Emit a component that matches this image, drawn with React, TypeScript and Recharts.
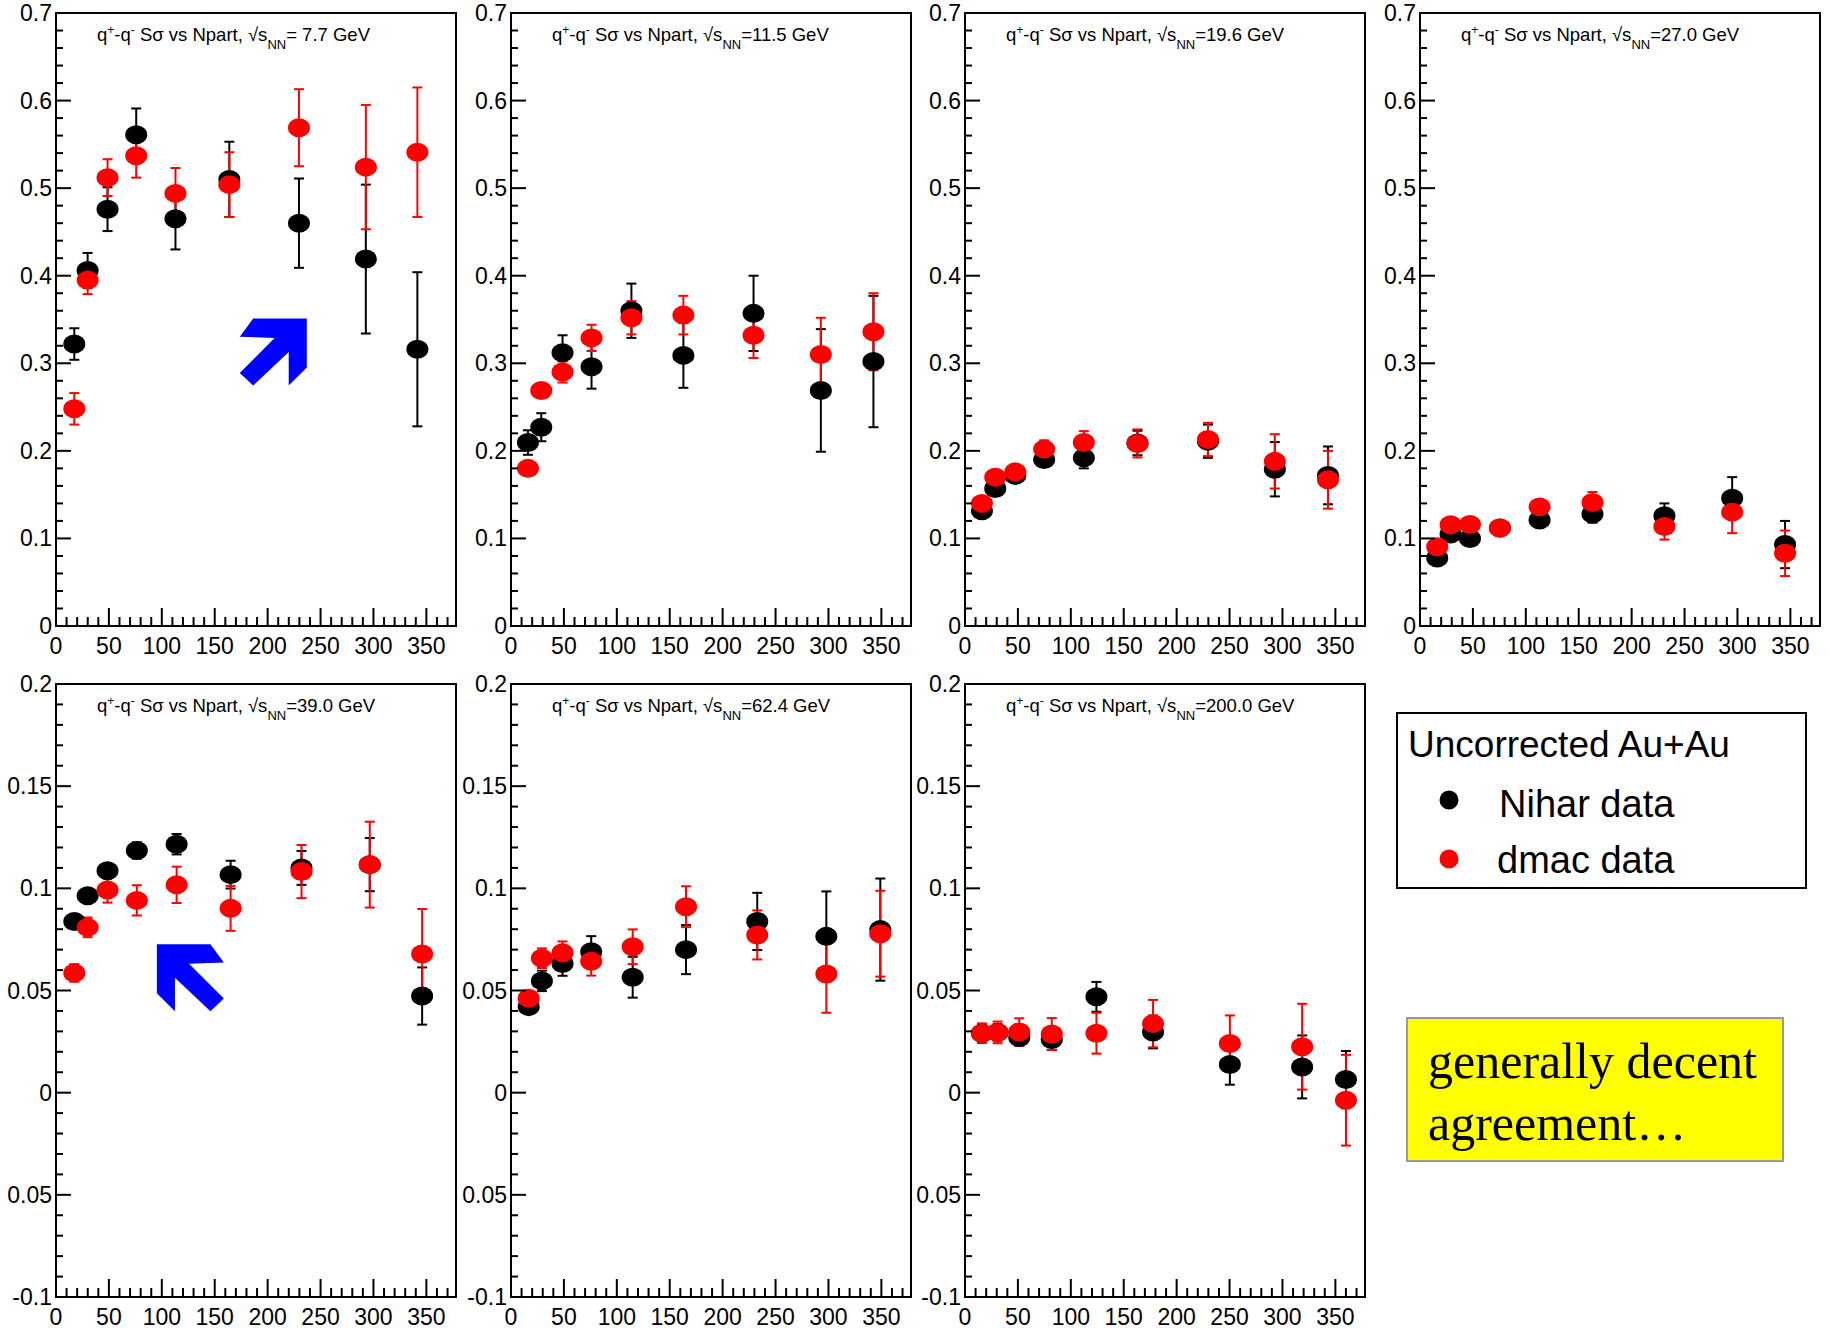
import React from "react";
import {
  ErrorBar,
  ReferenceArea,
  ReferenceDot,
  Scatter,
  ScatterChart,
  XAxis,
  YAxis,
} from "recharts";

const FONT = "'Liberation Sans', Arial, Helvetica, sans-serif";
const RED = "#ff0000";
const BLACK = "#000000";

// x axis (Npart)
const X_MAX = 378;
const xMajor = [0, 50, 100, 150, 200, 250, 300, 350];
const xLabels = ["0", "50", "100", "150", "200", "250", "300", "350"];

// y axes
const yMajorTop = [0, 0.1, 0.2, 0.3, 0.4, 0.5, 0.6, 0.7];
const yLabelsTop = ["0", "0.1", "0.2", "0.3", "0.4", "0.5", "0.6", "0.7"];
const yMajorBottom = [-0.1, -0.05, 0, 0.05, 0.1, 0.15, 0.2];
const yLabelsBottom = ["-0.1", "0.05", "0", "0.05", "0.1", "0.15", "0.2"];

// 7.7 GeV
const npart7 = [17.3, 29.9, 48.7, 75.8, 112.9, 163.8, 229.6, 292.8, 341.5];
const nihar7 = [0.322, 0.406, 0.476, 0.561, 0.465, 0.51, 0.46, 0.419, 0.316];
const niharErr7 = [0.018, 0.02, 0.025, 0.03, 0.035, 0.043, 0.051, 0.085, 0.088];
const dmac7 = [0.248, 0.395, 0.512, 0.537, 0.494, 0.504, 0.569, 0.524, 0.541];
const dmacErr7 = [0.018, 0.016, 0.021, 0.025, 0.029, 0.037, 0.044, 0.071, 0.074];

// 11.5 GeV
const npart11 = [16.0, 28.6, 48.7, 76.1, 113.8, 162.9, 229.2, 292.8, 342.5];
const nihar11 = [0.2095, 0.227, 0.312, 0.296, 0.36, 0.309, 0.357, 0.269, 0.302];
const niharErr11 = [0.014, 0.016, 0.02, 0.025, 0.031, 0.037, 0.043, 0.07, 0.075];
const dmac11 = [0.18, 0.269, 0.29, 0.329, 0.352, 0.355, 0.332, 0.31, 0.336];
const dmacErr11 = [0.006, 0.007, 0.012, 0.015, 0.019, 0.022, 0.026, 0.042, 0.044];

// 19.6 GeV
const npart19 = [16.0, 28.6, 47.5, 74.8, 112.3, 163.0, 229.6, 292.8, 343.0];
const nihar19 = [0.1315, 0.157, 0.172, 0.19, 0.192, 0.209, 0.211, 0.179, 0.172];
const niharErr19 = [0.005, 0.006, 0.006, 0.008, 0.012, 0.014, 0.019, 0.031, 0.033];
const dmac19 = [0.14, 0.17, 0.176, 0.202, 0.2095, 0.2085, 0.213, 0.188, 0.167];
const dmacErr19 = [0.005, 0.006, 0.006, 0.01, 0.013, 0.016, 0.019, 0.031, 0.033];

// 27 GeV
const npart27 = [16.3, 28.9, 47.2, 75.5, 113.0, 163.0, 231.0, 295.0, 345.0];
const nihar27 = [0.0776, 0.105, 0.1, 0.112, 0.121, 0.128, 0.126, 0.146, 0.093];
const niharErr27 = [0.004, 0.005, 0.005, 0.006, 0.006, 0.01, 0.014, 0.024, 0.027];
const dmac27 = [0.0906, 0.1156, 0.116, 0.112, 0.136, 0.141, 0.1137, 0.13, 0.083];
const dmacErr27 = [0.004, 0.005, 0.005, 0.004, 0.006, 0.012, 0.015, 0.024, 0.026];

// 39 GeV
const npart39 = [17.3, 29.9, 48.7, 76.4, 114.0, 165.0, 232.0, 296.5, 346.0];
const nihar39 = [0.0838, 0.0964, 0.1086, 0.1185, 0.1216, 0.1067, 0.11, 0.1116, 0.0473];
const niharErr39 = [0.002, 0.002, 0.002, 0.004, 0.005, 0.0068, 0.0083, 0.013, 0.014];
const dmac39 = [0.0586, 0.0809, 0.0992, 0.0941, 0.1017, 0.0902, 0.1082, 0.1116, 0.0679];
const dmacErr39 = [0.0043, 0.0048, 0.0062, 0.0074, 0.0089, 0.011, 0.013, 0.021, 0.022];

// 62.4 GeV
const npart62 = [16.7, 29.2, 48.7, 75.8, 115.0, 165.4, 232.7, 298.0, 349.0];
const nihar62 = [0.0421, 0.0547, 0.0632, 0.069, 0.0565, 0.07, 0.0838, 0.0765, 0.0798];
const niharErr62 = [0.003, 0.005, 0.006, 0.0076, 0.01, 0.012, 0.014, 0.022, 0.025];
const dmac62 = [0.0462, 0.0658, 0.0685, 0.0643, 0.0714, 0.091, 0.0772, 0.0581, 0.0778];
const dmacErr62 = [0.003, 0.0048, 0.0055, 0.007, 0.0085, 0.01, 0.012, 0.019, 0.021];

// 200 GeV
const npart200 = [16.0, 30.8, 51.3, 82.0, 124.2, 177.7, 250.3, 318.6, 360.0];
const nihar200 = [0.0291, 0.0295, 0.027, 0.026, 0.0469, 0.0297, 0.0138, 0.0126, 0.0064];
const niharErr200 = [0.004, 0.004, 0.004, 0.005, 0.0073, 0.008, 0.0099, 0.0154, 0.014];
const dmac200 = [0.0291, 0.0295, 0.0297, 0.0287, 0.0291, 0.0338, 0.0241, 0.0225, -0.0037];
const dmacErr200 = [0.0048, 0.0053, 0.0067, 0.0078, 0.01, 0.0116, 0.0137, 0.021, 0.0222];

// layout
const CHART_W = 458;
const CHART_H = 660;
const FRAME_LEFT = 56;
const FRAME_TOP = 13;
const FRAME_H = 613;
const FRAME_BOTTOM = FRAME_TOP + FRAME_H;
const colLeft = [0, 455, 909, 1364];
const rowTop = [0, 671];

type Pt = { x: number; y: number; err: number };
const toPoints = (xs: number[], ys: number[], es: number[]): Pt[] =>
  xs.map((x, i) => ({ x, y: ys[i], err: es[i] }));

function subdivide(major: number[], parts: number, end: number) {
  const step = (major[1] - major[0]) / parts;
  const out: number[] = [];
  for (let i = 0; major[0] + i * step <= end + 1e-9; i++) {
    out.push(Number((major[0] + i * step).toFixed(4)));
  }
  return out;
}

const findLabel = (v: number, major: number[], labels: string[]) => {
  const i = major.findIndex((m) => Math.abs(m - v) < 1e-6);
  return i >= 0 ? labels[i] : null;
};

function XTick(props: any) {
  const { x, payload } = props;
  const label = findLabel(payload.value, xMajor, xLabels);
  const len = label !== null ? 18 : 9;
  return (
    <g>
      <line x1={x} x2={x} y1={FRAME_BOTTOM} y2={FRAME_BOTTOM - len} stroke={BLACK} strokeWidth={2} />
      {label !== null && (
        <text x={x} y={FRAME_BOTTOM + 20} textAnchor="middle" dominantBaseline="central"
          fontFamily={FONT} fontSize={23} fill={BLACK}>
          {label}
        </text>
      )}
    </g>
  );
}

function makeYTick(major: number[], labels: string[]) {
  return function YTick(props: any) {
    const { y, payload } = props;
    const label = findLabel(payload.value, major, labels);
    const len = label !== null ? 15 : 7;
    return (
      <g>
        <line x1={FRAME_LEFT} x2={FRAME_LEFT + len} y1={y} y2={y} stroke={BLACK} strokeWidth={2} />
        {label !== null && (
          <text x={FRAME_LEFT - 4} y={y} textAnchor="end" dominantBaseline="central"
            fontFamily={FONT} fontSize={23} fill={BLACK}>
            {label}
          </text>
        )}
      </g>
    );
  };
}

const YTickTop = makeYTick(yMajorTop, yLabelsTop);
const YTickBottom = makeYTick(yMajorBottom, yLabelsBottom);

const dot = (color: string) => (p: any) =>
  <ellipse cx={p.cx} cy={p.cy} rx={11} ry={9.5} fill={color} />;

const ARROW_PTS = [
  [0, 0.27], [0.2, 0], [1, 0], [1, 0.73], [0.73, 1],
  [0.73, 0.5], [0.2, 1], [0, 0.81], [0.52, 0.29],
];

function BlockArrow({ cx, cy, flip }: { cx: number; cy: number; flip: boolean }) {
  const S = 67;
  const pts = ARROW_PTS.map(([u, v]) => {
    const px = flip ? cx + (1 - u) * S : cx + (u - 1) * S;
    return `${px},${cy + v * S}`;
  }).join(" ");
  return <polygon points={pts} fill="#0000ff" />;
}

type Arrow = { x: number; y: number; flip: boolean };

function Panel({
  col, row, nihar, dmac, arrow,
}: { col: number; row: number; nihar: Pt[]; dmac: Pt[]; arrow?: Arrow }) {
  const top = row === 0;
  const yDomain = top ? [0, 0.7] : [-0.1, 0.2];
  const yTicks = top
    ? subdivide(yMajorTop, 5, 0.7)
    : subdivide(yMajorBottom, 5, 0.2);
  const xTicks = subdivide(xMajor, 5, X_MAX);
  return (
    <div style={{ position: "absolute", left: colLeft[col], top: rowTop[row] }}>
      <ScatterChart width={CHART_W} height={CHART_H}
        margin={{ top: FRAME_TOP, right: 2, bottom: CHART_H - FRAME_BOTTOM - 30, left: 0 }}>
        <XAxis type="number" dataKey="x" domain={[0, X_MAX]} ticks={xTicks} interval={0}
          allowDataOverflow axisLine={false} tickLine={false} height={30} tick={XTick} />
        <YAxis type="number" dataKey="y" domain={yDomain} ticks={yTicks} interval={0}
          allowDataOverflow axisLine={false} tickLine={false} width={FRAME_LEFT}
          tick={top ? YTickTop : YTickBottom} />
        <Scatter data={nihar} fill={BLACK} shape={dot(BLACK)} isAnimationActive={false}>
          <ErrorBar dataKey="err" direction="y" width={5} stroke={BLACK} strokeWidth={2}
            isAnimationActive={false} />
        </Scatter>
        <Scatter data={dmac} fill={RED} shape={dot(RED)} isAnimationActive={false}>
          <ErrorBar dataKey="err" direction="y" width={5} stroke={RED} strokeWidth={2}
            isAnimationActive={false} />
        </Scatter>
        {arrow && (
          <ReferenceDot x={arrow.x} y={arrow.y} r={0} ifOverflow="visible"
            shape={(p: any) => <BlockArrow cx={p.cx} cy={p.cy} flip={arrow.flip} />} />
        )}
        <ReferenceArea x1={0} x2={X_MAX} y1={yDomain[0]} y2={yDomain[1]}
          fill="none" fillOpacity={0} stroke={BLACK} strokeWidth={2} ifOverflow="visible" />
      </ScatterChart>
    </div>
  );
}

const energies = ["= 7.7 GeV", "=11.5 GeV", "=19.6 GeV", "=27.0 GeV", "=39.0 GeV", "=62.4 GeV", "=200.0 GeV"];

function Title({ x, y, energy }: { x: number; y: number; energy: string }) {
  return (
    <text x={x} y={y} fontFamily={FONT} fontSize={18.5} fill={BLACK}>
      q<tspan dy={-7} fontSize={12}>+</tspan>
      <tspan dy={7}>-q</tspan>
      <tspan dy={-7} fontSize={12}>-</tspan>
      <tspan dy={7}> Sσ vs Npart, √s</tspan>
      <tspan dy={8} fontSize={13}>NN</tspan>
      <tspan dy={-8}>{energy}</tspan>
    </text>
  );
}

export default function App() {
  const panels = [
    { col: 0, row: 0, nihar: toPoints(npart7, nihar7, niharErr7), dmac: toPoints(npart7, dmac7, dmacErr7),
      arrow: { x: 237, y: 0.351, flip: false } },
    { col: 1, row: 0, nihar: toPoints(npart11, nihar11, niharErr11), dmac: toPoints(npart11, dmac11, dmacErr11) },
    { col: 2, row: 0, nihar: toPoints(npart19, nihar19, niharErr19), dmac: toPoints(npart19, dmac19, dmacErr19) },
    { col: 3, row: 0, nihar: toPoints(npart27, nihar27, niharErr27), dmac: toPoints(npart27, dmac27, dmacErr27) },
    { col: 0, row: 1, nihar: toPoints(npart39, nihar39, niharErr39), dmac: toPoints(npart39, dmac39, dmacErr39),
      arrow: { x: 95.3, y: 0.0726, flip: true } },
    { col: 1, row: 1, nihar: toPoints(npart62, nihar62, niharErr62), dmac: toPoints(npart62, dmac62, dmacErr62) },
    { col: 2, row: 1, nihar: toPoints(npart200, nihar200, niharErr200), dmac: toPoints(npart200, dmac200, dmacErr200) },
  ];

  return (
    <div style={{ position: "absolute", left: 0, top: 0, width: 1830, height: 1331, background: "#fff", overflow: "hidden" }}>
      {panels.map((p, i) => (
        <Panel key={i} col={p.col} row={p.row} nihar={p.nihar} dmac={p.dmac} arrow={p.arrow} />
      ))}

      <svg width={1830} height={1331} style={{ position: "absolute", left: 0, top: 0, pointerEvents: "none" }}>
        {panels.map((p, i) => (
          <Title key={i} x={colLeft[p.col] + FRAME_LEFT + 41} y={rowTop[p.row] + FRAME_TOP + 28} energy={energies[i]} />
        ))}

        {/* legend */}
        <g transform="translate(1397,713)">
          <rect x={0} y={0} width={409} height={175} fill="#fff" stroke={BLACK} strokeWidth={2} />
          <text x={11} y={44} fontFamily={FONT} fontSize={37} fill={BLACK}>Uncorrected Au+Au</text>
          <circle cx={52} cy={87} r={9.5} fill={BLACK} />
          <text x={102} y={104} fontFamily={FONT} fontSize={38} fill={BLACK}>Nihar data</text>
          <circle cx={52} cy={146} r={9.5} fill={RED} />
          <text x={100} y={160} fontFamily={FONT} fontSize={38} fill={BLACK}>dmac data</text>
        </g>

        {/* note */}
        <g transform="translate(1407,1018)">
          <rect x={0} y={0} width={376} height={143} fill="#ffff00" stroke="#999" strokeWidth={2} />
          <text x={21} y={60} fontFamily="'Liberation Serif', 'Times New Roman', serif" fontSize={50} fill={BLACK}>
            generally decent
          </text>
          <text x={21} y={122} fontFamily="'Liberation Serif', 'Times New Roman', serif" fontSize={50} fill={BLACK}>
            agreement…
          </text>
        </g>
      </svg>
    </div>
  );
}
